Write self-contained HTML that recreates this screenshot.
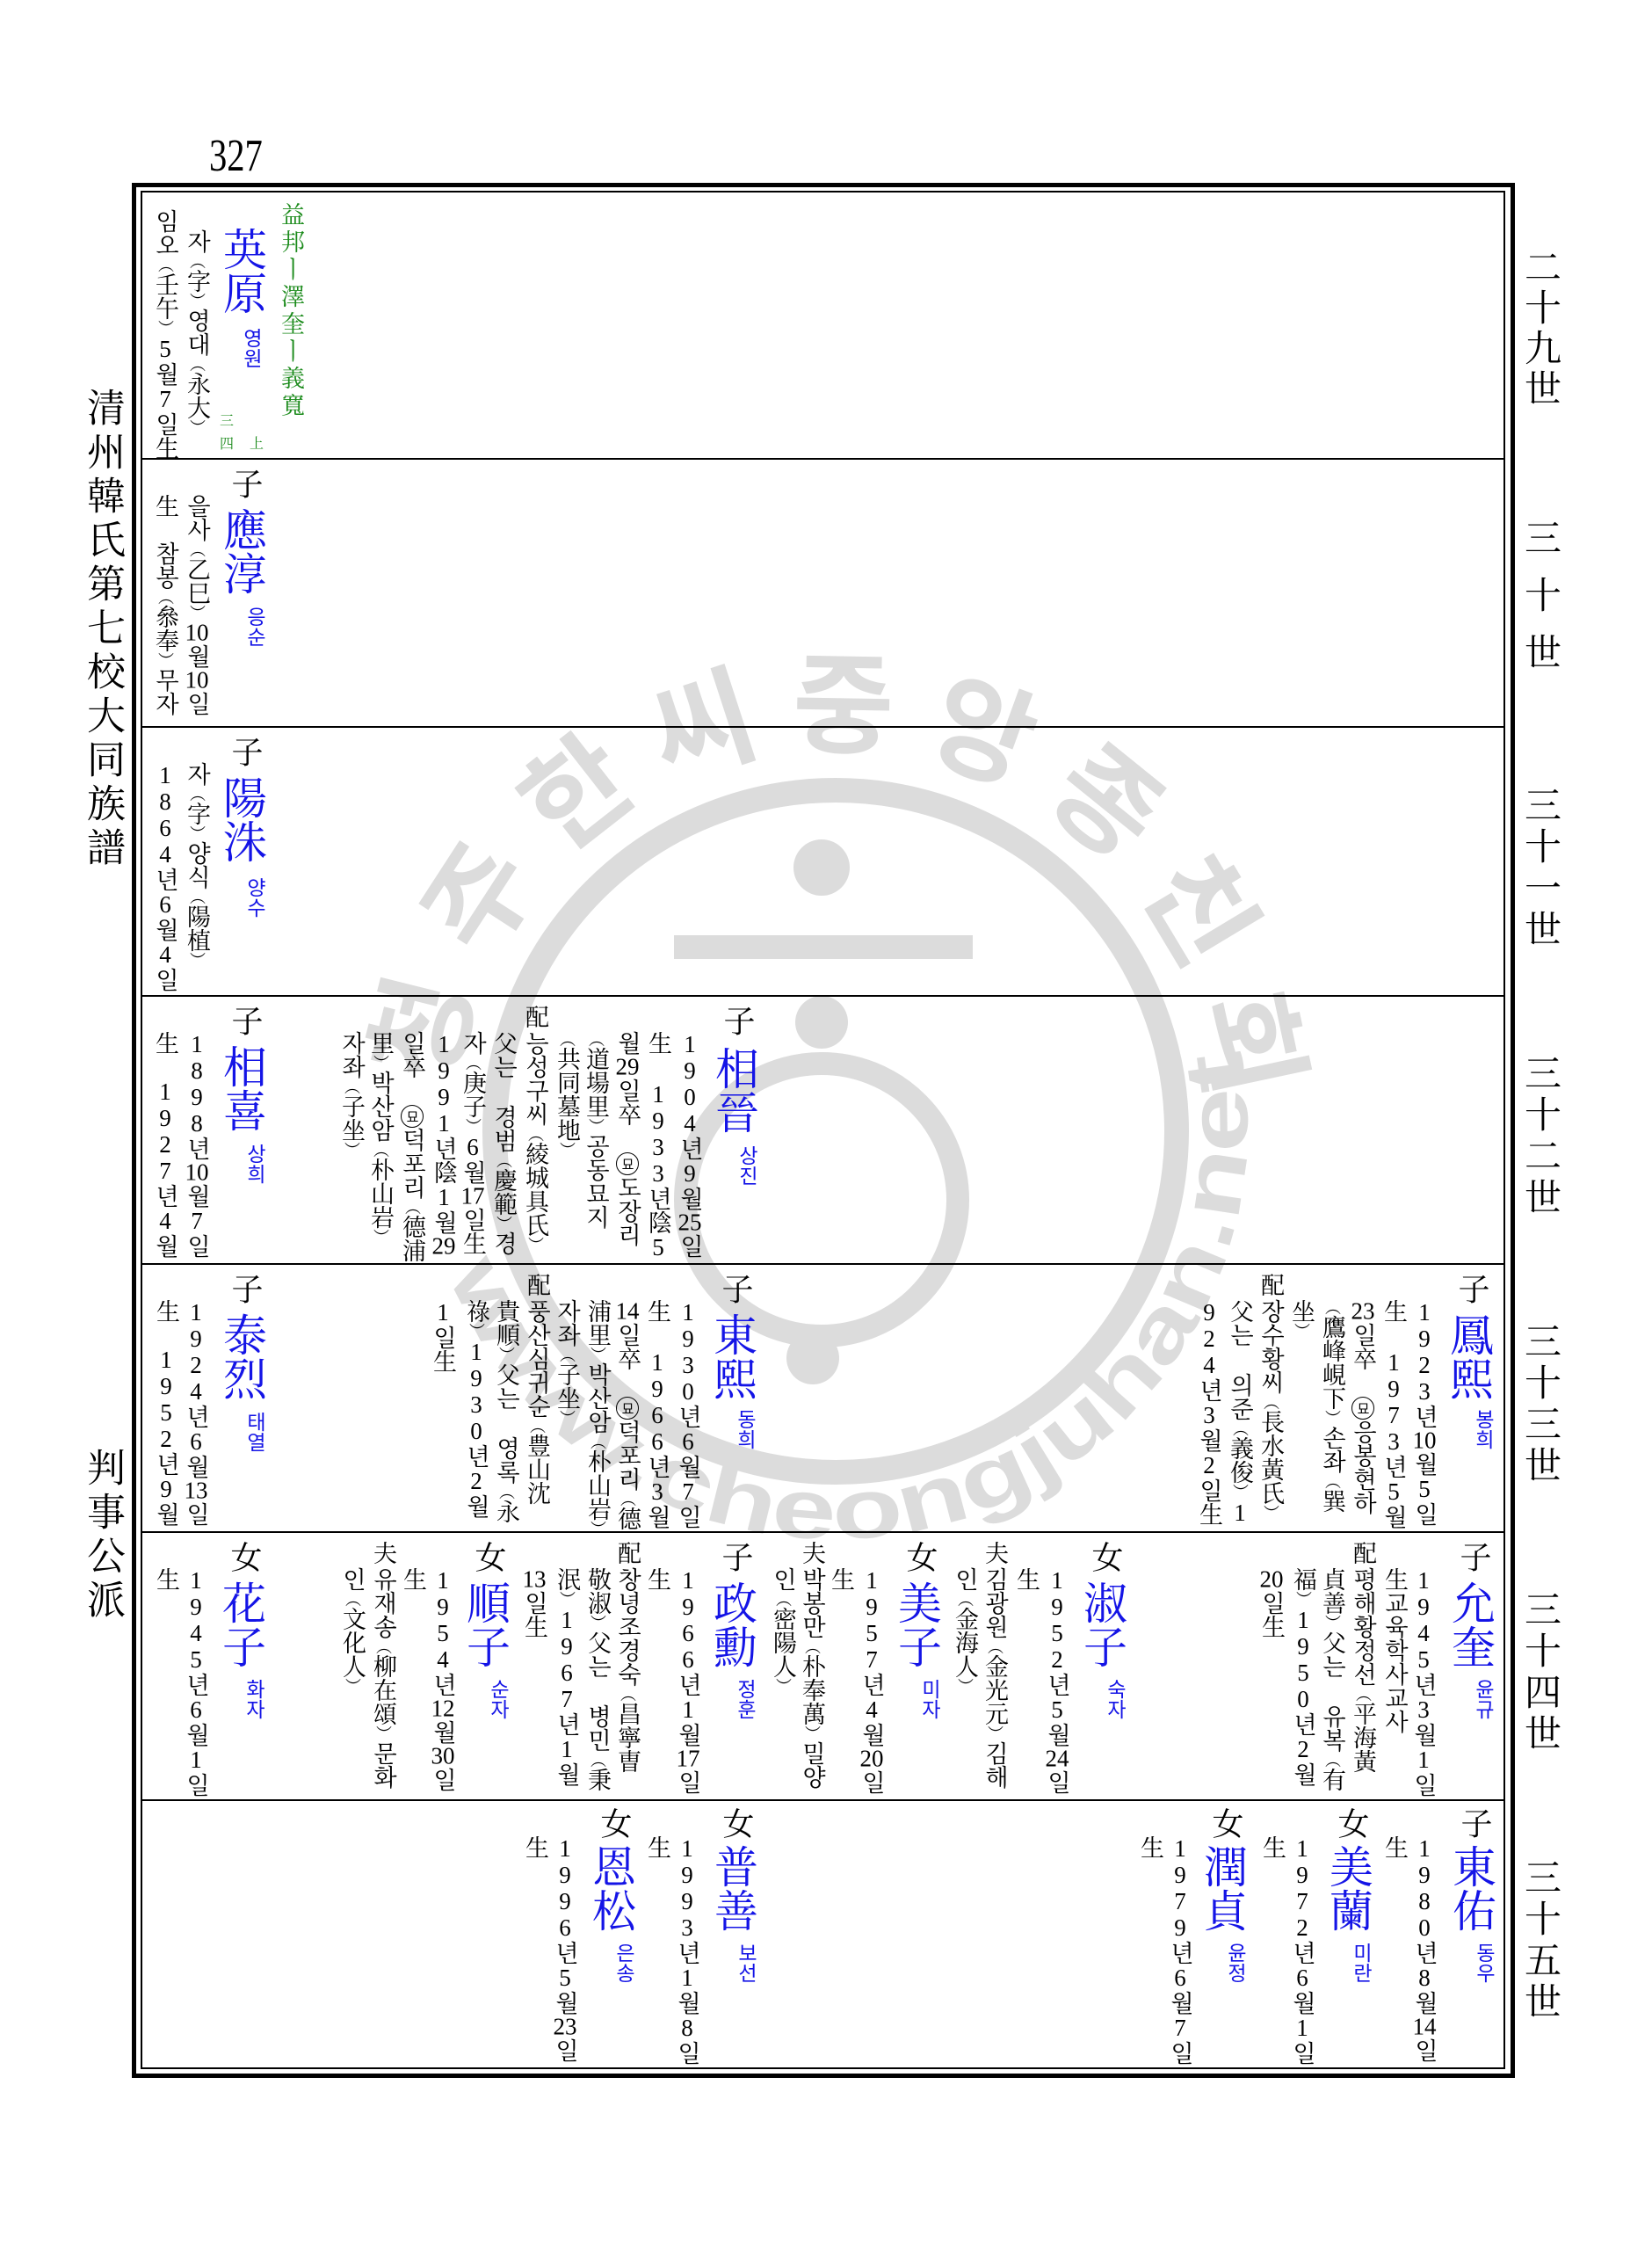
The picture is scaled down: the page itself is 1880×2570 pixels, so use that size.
<!DOCTYPE html>
<html><head><meta charset="utf-8">
<style>
html,body{margin:0;padding:0;background:#fff;}
#pg{position:relative;width:1880px;height:2570px;overflow:hidden;background:#fff;font-family:"Liberation Serif","Noto Serif CJK SC","Noto Sans CJK KR",serif;color:#000;}
.c{position:absolute;writing-mode:vertical-rl;text-orientation:upright;font-size:27px;line-height:34px;width:34px;white-space:nowrap;}
.c i{font-style:normal;font-size:18px;}
.t{text-combine-upright:all;}
.mk{position:absolute;writing-mode:vertical-rl;font-size:36px;line-height:40px;width:40px;}
.nm{position:absolute;writing-mode:vertical-rl;text-orientation:upright;font-size:50px;line-height:52px;width:52px;color:#1414e6;font-family:"Noto Serif CJK SC",serif;}
.rd{position:absolute;writing-mode:vertical-rl;text-orientation:upright;font-size:23px;line-height:26px;width:26px;color:#1414e6;font-family:"Noto Sans CJK KR",sans-serif;}
.m{display:inline-block;width:24px;height:24px;border:1.5px solid #000;border-radius:50%;font-size:15px;line-height:24px;text-align:center;font-family:"Noto Sans CJK KR",sans-serif;}
.bx{position:absolute;box-sizing:border-box;}
.hl{position:absolute;left:160px;width:1553px;height:2px;background:#000;}
.side{position:absolute;writing-mode:vertical-rl;text-orientation:upright;font-family:"Noto Serif CJK SC",serif;}
</style></head><body><div id="pg">

<svg width="1880" height="2570" style="position:absolute;left:0;top:0" xmlns="http://www.w3.org/2000/svg">
<g fill="#dcdcdc" stroke="none">
<circle cx="951" cy="1287" r="388" fill="none" stroke="#dcdcdc" stroke-width="28"/>
<circle cx="935" cy="987" r="32"/>
<rect x="767" y="1064" width="340" height="27"/>
<circle cx="935" cy="1163" r="30"/>
<circle cx="935" cy="1365" r="155" fill="none" stroke="#dcdcdc" stroke-width="26"/>
<circle cx="925" cy="1545" r="30"/>
</g>
<defs>
<path id="arcB" d="M 511 1450 A 470 470 0 0 0 1405 1165"/>
</defs>
<g font-family="Noto Sans CJK KR,sans-serif" font-weight="bold" font-size="125" fill="#dcdcdc" text-anchor="middle" dominant-baseline="central">
<text x="471" y="1167" transform="rotate(284,471,1167)">청</text>
<text x="537" y="1016" transform="rotate(303,537,1016)">주</text>
<text x="650" y="894" transform="rotate(322,650,894)">한</text>
<text x="796" y="817" transform="rotate(342,796,817)">씨</text>
<text x="960" y="792" transform="rotate(361,960,792)">중</text>
<text x="1122" y="823" transform="rotate(380,1122,823)">앙</text>
<text x="1266" y="905" transform="rotate(399,1266,905)">종</text>
<text x="1374" y="1030" transform="rotate(419,1374,1030)">친</text>
<text x="1435" y="1184" transform="rotate(438,1435,1184)">회</text>
</g>
<text font-family="Liberation Sans,sans-serif" font-weight="bold" font-size="96" fill="#dcdcdc"><textPath href="#arcB" textLength="1390" lengthAdjust="spacingAndGlyphs">www.cheongjuhan.net</textPath></text>
</svg>

<div style="position:absolute;left:238px;top:150px;font-family:'Liberation Serif',serif;font-size:52px;line-height:56px;transform:scaleX(0.78);transform-origin:left top;">327</div>

<div class="bx" style="left:150px;top:208px;width:1574px;height:2156px;border:5px solid #000;"></div>
<div class="bx" style="left:160px;top:217px;width:1553px;height:2137px;border:2px solid #000;"></div>
<div class="hl" style="top:521px"></div>
<div class="hl" style="top:826px"></div>
<div class="hl" style="top:1132px"></div>
<div class="hl" style="top:1437px"></div>
<div class="hl" style="top:1742px"></div>
<div class="hl" style="top:2047px"></div>

<div class="side" style="left:98px;top:441px;font-size:44px;line-height:46px;width:46px;letter-spacing:6px;">清州韓氏第七校大同族譜</div>
<div class="side" style="left:98px;top:1647px;font-size:44px;line-height:46px;width:46px;letter-spacing:6px;">判事公派</div>

<div class="side" style="left:1734px;top:282px;font-size:42px;line-height:44px;width:44px;letter-spacing:4px;">二十九世</div>
<div class="side" style="left:1734px;top:590px;font-size:42px;line-height:44px;width:44px;letter-spacing:23px;">三十世</div>
<div class="side" style="left:1734px;top:894px;font-size:42px;line-height:44px;width:44px;letter-spacing:5px;">三十一世</div>
<div class="side" style="left:1734px;top:1199px;font-size:42px;line-height:44px;width:44px;letter-spacing:5px;">三十二世</div>
<div class="side" style="left:1734px;top:1504px;font-size:42px;line-height:44px;width:44px;letter-spacing:5px;">三十三世</div>
<div class="side" style="left:1734px;top:1809px;font-size:42px;line-height:44px;width:44px;letter-spacing:5px;">三十四世</div>
<div class="side" style="left:1734px;top:2114px;font-size:42px;line-height:44px;width:44px;letter-spacing:5px;">三十五世</div>

<!-- Row 0 -->
<div class="c" style="left:314px;top:230px;color:#1a8a1a;letter-spacing:4px;">益邦ㅣ澤奎ㅣ義寬</div>
<div class="nm" style="left:253px;top:258px;">英原</div>
<div class="rd" style="left:275px;top:373px;">영원</div>
<div style="position:absolute;left:250px;top:466px;font-size:16px;color:#1a8a1a;">三</div>
<div style="position:absolute;left:250px;top:492px;font-size:16px;color:#1a8a1a;">四</div>
<div style="position:absolute;left:284px;top:492px;font-size:16px;color:#1a8a1a;">上</div>
<div class="c" style="left:207px;top:261px;">자<i>（</i>字<i>）</i>영대<i>（</i>永大<i>）</i></div>
<div class="c" style="left:171px;top:238px;">임오<i>（</i>壬午<i>）</i>5월7일生</div>

<!-- Row 1 -->
<div class="mk" style="left:259px;top:532px;">子</div>
<div class="nm" style="left:253px;top:577px;">應淳</div>
<div class="rd" style="left:279px;top:690px;">응순</div>
<div class="c" style="left:207px;top:562px;">을사<i>（</i>乙巳<i>）</i><span class="t">10</span>월<span class="t">10</span>일</div>
<div class="c" style="left:171px;top:562px;">生　참봉<i>（</i>叅奉<i>）</i>무자</div>

<!-- Row 2 -->
<div class="mk" style="left:259px;top:837px;">子</div>
<div class="nm" style="left:253px;top:882px;">陽洙</div>
<div class="rd" style="left:279px;top:998px;">양수</div>
<div class="c" style="left:207px;top:867px;">자<i>（</i>字<i>）</i>양식<i>（</i>陽植<i>）</i></div>
<div class="c" style="left:171px;top:867px;">1864년6월4일</div>

<!-- Row 3 -->
<div class="mk" style="left:259px;top:1143px;">子</div>
<div class="nm" style="left:253px;top:1188px;">相喜</div>
<div class="rd" style="left:279px;top:1301px;">상희</div>
<div class="c" style="left:207px;top:1173px;">1898년<span class="t">10</span>월7일</div>
<div class="c" style="left:171px;top:1173px;">生　1927년4월</div>

<div class="mk" style="left:819px;top:1143px;">子</div>
<div class="nm" style="left:813px;top:1190px;">相晉</div>
<div class="rd" style="left:839px;top:1303px;">상진</div>
<div class="c" style="left:768px;top:1173px;">1904년9월<span class="t">25</span>일</div>
<div class="c" style="left:732px;top:1173px;">生 1933년陰5</div>
<div class="c" style="left:697px;top:1173px;">월<span class="t">29</span>일卒 <span class="m">묘</span>도장리</div>
<div class="c" style="left:661px;top:1173px;"><i>（</i>道場里<i>）</i>공동묘지</div>
<div class="c" style="left:628px;top:1173px;"><i>（</i>共同墓地<i>）</i></div>
<div class="c" style="left:592px;top:1143px;">配</div>
<div class="c" style="left:592px;top:1173px;">능성구씨<i>（</i>綾城具氏<i>）</i></div>
<div class="c" style="left:556px;top:1173px;">父는 경범<i>（</i>慶範<i>）</i>경</div>
<div class="c" style="left:521px;top:1173px;">자<i>（</i>庚子<i>）</i>6월<span class="t">17</span>일生</div>
<div class="c" style="left:488px;top:1173px;">1991년陰1월<span class="t">29</span></div>
<div class="c" style="left:452px;top:1173px;">일卒 <span class="m">묘</span>덕포리<i>（</i>德浦</div>
<div class="c" style="left:416px;top:1173px;">里<i>）</i>박산암<i>（</i>朴山岩<i>）</i></div>
<div class="c" style="left:383px;top:1173px;">자좌<i>（</i>子坐<i>）</i></div>

<!-- Row 4 -->
<div class="mk" style="left:259px;top:1448px;">子</div>
<div class="nm" style="left:253px;top:1493px;">泰烈</div>
<div class="rd" style="left:279px;top:1606px;">태열</div>
<div class="c" style="left:206px;top:1478px;">1924년6월<span class="t">13</span>일</div>
<div class="c" style="left:172px;top:1478px;">生　1952년9월</div>

<div class="mk" style="left:817px;top:1448px;">子</div>
<div class="nm" style="left:811px;top:1493px;">東熙</div>
<div class="rd" style="left:837px;top:1603px;">동희</div>
<div class="c" style="left:766px;top:1478px;">1930년6월7일</div>
<div class="c" style="left:731px;top:1478px;">生 1966년3월</div>
<div class="c" style="left:697px;top:1478px;"><span class="t">14</span>일卒 <span class="m">묘</span>덕포리<i>（</i>德</div>
<div class="c" style="left:663px;top:1478px;">浦里<i>）</i>박산암<i>（</i>朴山岩<i>）</i></div>
<div class="c" style="left:628px;top:1478px;">자좌<i>（</i>子坐<i>）</i></div>
<div class="c" style="left:594px;top:1448px;">配</div>
<div class="c" style="left:594px;top:1478px;">풍산심귀순<i>（</i>豊山沈</div>
<div class="c" style="left:559px;top:1478px;">貴順<i>）</i>父는 영록<i>（</i>永</div>
<div class="c" style="left:525px;top:1478px;">祿<i>）</i>1930년2월</div>
<div class="c" style="left:487px;top:1478px;">1일生</div>

<div class="mk" style="left:1655px;top:1448px;">子</div>
<div class="nm" style="left:1649px;top:1493px;">鳳熙</div>
<div class="rd" style="left:1677px;top:1603px;">봉희</div>
<div class="c" style="left:1604px;top:1478px;">1923년<span class="t">10</span>월5일</div>
<div class="c" style="left:1569px;top:1478px;">生 1973년5월</div>
<div class="c" style="left:1534px;top:1478px;"><span class="t">23</span>일卒 <span class="m">묘</span>응봉현하</div>
<div class="c" style="left:1499px;top:1478px;"><i>（</i>鷹峰峴下<i>）</i>손좌<i>（</i>巽</div>
<div class="c" style="left:1464px;top:1478px;">坐<i>）</i></div>
<div class="c" style="left:1429px;top:1448px;">配</div>
<div class="c" style="left:1429px;top:1478px;">장수황씨<i>（</i>長水黃氏<i>）</i></div>
<div class="c" style="left:1394px;top:1478px;">父는 의준<i>（</i>義俊<i>）</i>1</div>
<div class="c" style="left:1359px;top:1478px;">924년3월2일生</div>

<!-- Row 5 -->
<div class="mk" style="left:258px;top:1753px;">女</div>
<div class="nm" style="left:252px;top:1798px;">花子</div>
<div class="rd" style="left:278px;top:1910px;">화자</div>
<div class="c" style="left:206px;top:1783px;">1945년6월1일</div>
<div class="c" style="left:172px;top:1783px;">生</div>

<div class="mk" style="left:536px;top:1753px;">女</div>
<div class="nm" style="left:530px;top:1798px;">順子</div>
<div class="rd" style="left:556px;top:1910px;">순자</div>
<div class="c" style="left:487px;top:1783px;">1954년<span class="t">12</span>월<span class="t">30</span>일</div>
<div class="c" style="left:453px;top:1783px;">生</div>
<div class="c" style="left:419px;top:1753px;">夫</div>
<div class="c" style="left:419px;top:1783px;">유재송<i>（</i>柳在頌<i>）</i>문화</div>
<div class="c" style="left:384px;top:1783px;">인<i>（</i>文化人<i>）</i></div>

<div class="mk" style="left:817px;top:1753px;">子</div>
<div class="nm" style="left:811px;top:1798px;">政勳</div>
<div class="rd" style="left:837px;top:1910px;">정훈</div>
<div class="c" style="left:766px;top:1783px;">1966년1월<span class="t">17</span>일</div>
<div class="c" style="left:731px;top:1783px;">生</div>
<div class="c" style="left:697px;top:1753px;">配</div>
<div class="c" style="left:697px;top:1783px;">창녕조경숙<i>（</i>昌寧曺</div>
<div class="c" style="left:663px;top:1783px;">敬淑<i>）</i>父는 병민<i>（</i>秉</div>
<div class="c" style="left:628px;top:1783px;">泯<i>）</i>1967년1월</div>
<div class="c" style="left:591px;top:1783px;"><span class="t">13</span>일生</div>

<div class="mk" style="left:1027px;top:1753px;">女</div>
<div class="nm" style="left:1021px;top:1798px;">美子</div>
<div class="rd" style="left:1047px;top:1910px;">미자</div>
<div class="c" style="left:975px;top:1783px;">1957년4월<span class="t">20</span>일</div>
<div class="c" style="left:940px;top:1783px;">生</div>
<div class="c" style="left:907px;top:1753px;">夫</div>
<div class="c" style="left:907px;top:1783px;">박봉만<i>（</i>朴奉萬<i>）</i>밀양</div>
<div class="c" style="left:874px;top:1783px;">인<i>（</i>密陽人<i>）</i></div>

<div class="mk" style="left:1238px;top:1753px;">女</div>
<div class="nm" style="left:1232px;top:1798px;">淑子</div>
<div class="rd" style="left:1258px;top:1910px;">숙자</div>
<div class="c" style="left:1186px;top:1783px;">1952년5월<span class="t">24</span>일</div>
<div class="c" style="left:1151px;top:1783px;">生</div>
<div class="c" style="left:1115px;top:1753px;">夫</div>
<div class="c" style="left:1115px;top:1783px;">김광원<i>（</i>金光元<i>）</i>김해</div>
<div class="c" style="left:1081px;top:1783px;">인<i>（</i>金海人<i>）</i></div>

<div class="mk" style="left:1657px;top:1753px;">子</div>
<div class="nm" style="left:1651px;top:1798px;">允奎</div>
<div class="rd" style="left:1677px;top:1910px;">윤규</div>
<div class="c" style="left:1603px;top:1783px;">1945년3월1일</div>
<div class="c" style="left:1570px;top:1783px;">生교육학사교사</div>
<div class="c" style="left:1534px;top:1753px;">配</div>
<div class="c" style="left:1534px;top:1783px;">평해황정선<i>（</i>平海黃</div>
<div class="c" style="left:1499px;top:1783px;">貞善<i>）</i>父는 유복<i>（</i>有</div>
<div class="c" style="left:1466px;top:1783px;">福<i>）</i>1950년2월</div>
<div class="c" style="left:1430px;top:1783px;"><span class="t">20</span>일生</div>

<!-- Row 6 -->
<div class="mk" style="left:1658px;top:2056px;">子</div>
<div class="nm" style="left:1652px;top:2098px;">東佑</div>
<div class="rd" style="left:1678px;top:2210px;">동우</div>
<div class="c" style="left:1604px;top:2088px;">1980년8월<span class="t">14</span>일</div>
<div class="c" style="left:1570px;top:2088px;">生</div>

<div class="mk" style="left:1518px;top:2056px;">女</div>
<div class="nm" style="left:1512px;top:2098px;">美蘭</div>
<div class="rd" style="left:1538px;top:2210px;">미란</div>
<div class="c" style="left:1465px;top:2088px;">1972년6월1일</div>
<div class="c" style="left:1431px;top:2088px;">生</div>

<div class="mk" style="left:1375px;top:2056px;">女</div>
<div class="nm" style="left:1369px;top:2098px;">潤貞</div>
<div class="rd" style="left:1395px;top:2210px;">윤정</div>
<div class="c" style="left:1326px;top:2088px;">1979년6월7일</div>
<div class="c" style="left:1292px;top:2088px;">生</div>

<div class="mk" style="left:818px;top:2056px;">女</div>
<div class="nm" style="left:812px;top:2098px;">普善</div>
<div class="rd" style="left:838px;top:2210px;">보선</div>
<div class="c" style="left:765px;top:2088px;">1993년1월8일</div>
<div class="c" style="left:731px;top:2088px;">生</div>

<div class="mk" style="left:679px;top:2056px;">女</div>
<div class="nm" style="left:673px;top:2098px;">恩松</div>
<div class="rd" style="left:699px;top:2210px;">은송</div>
<div class="c" style="left:626px;top:2088px;">1996년5월<span class="t">23</span>일</div>
<div class="c" style="left:592px;top:2088px;">生</div>

</div></body></html>
